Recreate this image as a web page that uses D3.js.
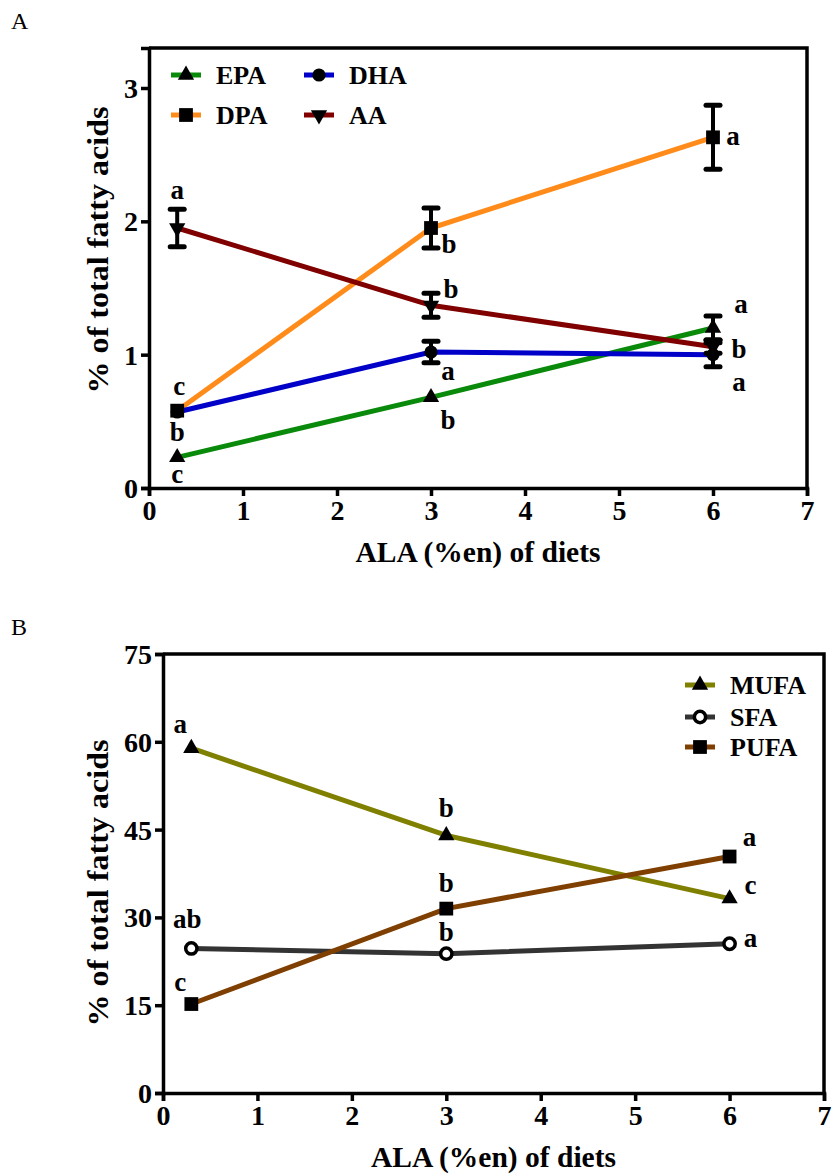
<!DOCTYPE html>
<html>
<head>
<meta charset="utf-8">
<script src="https://cdn.jsdelivr.net/npm/d3@7"></script>
<style>
  body { margin: 0; background: #fff; }
  svg text { font-family: "Liberation Serif", "Times New Roman", serif; }
</style>
</head>
<body>
<svg id="chart" width="832" height="1175"></svg>
<script>
// diets (ALA %en)
var ala = [0.3, 3, 6];

// panel A - % of total fatty acids
var epa = [0.23, 0.68, 1.20];
var epaErr = [0.02, 0.02, 0.09];
var epaSig = ["c", "b", "a"];
var dha = [0.57, 1.02, 1.00];
var dhaErr = [0.02, 0.08, 0.09];
var dhaSig = ["b", "a", "a"];
var dpa = [0.58, 1.95, 2.63];
var dpaErr = [0.02, 0.15, 0.24];
var dpaSig = ["c", "b", "a"];
var aa = [1.95, 1.37, 1.06];
var aaErr = [0.14, 0.09, 0.05];
var aaSig = ["a", "b", "b"];

// panel B
var mufa = [58.9, 44.0, 33.2];
var mufaSig = ["a", "b", "c"];
var sfa = [24.7, 23.8, 25.5];
var sfaSig = ["ab", "b", "a"];
var pufa = [15.2, 31.5, 40.4];
var pufaSig = ["c", "b", "a"];

var xTicks = [0, 1, 2, 3, 4, 5, 6, 7];
var yTicksA = [0, 1, 2, 3];
var yTicksB = [0, 15, 30, 45, 60, 75];

var svg = d3.select("#chart");

function rows(vals, errs, sig) {
  return ala.map(function(x, i) {
    return { x: x, y: vals[i], e: errs ? errs[i] : 0, sig: sig[i] };
  });
}

function symbolFor(kind) {
  if (kind == "up" || kind == "down") return d3.symbol().type(d3.symbolTriangle).size(115)();
  if (kind == "circle") return d3.symbol().type(d3.symbolCircle).size(135)();
  if (kind == "circle-open") return d3.symbol().type(d3.symbolCircle).size(100)();
  return d3.symbol().type(d3.symbolSquare).size(190)();
}

function addMarker(sel, kind) {
  sel.attr("d", symbolFor(kind))
    .attr("fill", kind == "circle-open" ? "#fff" : "#000")
    .attr("stroke", kind == "circle-open" ? "#000" : "none")
    .attr("stroke-width", 3.5);
}

function drawPanel(cfg) {
  var x = d3.scaleLinear().domain([0, 7]).range([cfg.left, cfg.right]);
  var y = d3.scaleLinear().domain([0, cfg.ymax]).range([cfg.bottom, cfg.top]);
  var g = svg.append("g");

  // frame (top and right)
  g.append("path")
    .attr("d", "M" + x(0) + "," + y(cfg.ymax) + "H" + x(7) + "V" + y(0))
    .attr("fill", "none").attr("stroke", "#000").attr("stroke-width", 3.5);

  var xa = g.append("g")
    .attr("transform", "translate(0," + y(0) + ")")
    .call(d3.axisBottom(x).tickValues(xTicks).tickSize(8).tickPadding(4).tickFormat(d3.format("d")));
  var ya = g.append("g")
    .attr("transform", "translate(" + x(0) + ",0)")
    .call(d3.axisLeft(y).tickValues(cfg.yTicks).tickSize(8).tickPadding(3).tickFormat(d3.format("d")));
  [xa, ya].forEach(function(a) {
    a.attr("font-family", null);
    a.select(".domain").attr("stroke-width", 3.5);
    a.selectAll(".tick line").attr("stroke-width", 3.5);
    a.selectAll(".tick text")
      .attr("fill", "#000")
      .style("font-size", "28px").style("font-weight", "bold");
  });
  ya.selectAll(".tick text").attr("dy", "0.34em");

  g.append("text")
    .attr("x", (cfg.left + cfg.right) / 2).attr("y", cfg.bottom + 74)
    .attr("text-anchor", "middle")
    .attr("textLength", 245).attr("lengthAdjust", "spacingAndGlyphs")
    .style("font-size", "30px").style("font-weight", "bold")
    .text("ALA (%en) of diets");
  g.append("text")
    .attr("transform", "translate(108," + cfg.ylabelMid + ") rotate(-90)")
    .attr("text-anchor", "middle")
    .attr("textLength", 287).attr("lengthAdjust", "spacingAndGlyphs")
    .style("font-size", "30px").style("font-weight", "bold")
    .text("% of total fatty acids");
  g.append("text")
    .attr("x", 11).attr("y", cfg.top - 19)
    .style("font-size", "24px")
    .text(cfg.panel);

  var line = d3.line().x(function(d) { return x(d.x); }).y(function(d) { return y(d.y); });

  cfg.series.forEach(function(s) {
    g.append("path")
      .datum(s.data)
      .attr("d", line)
      .attr("fill", "none")
      .attr("stroke", s.color)
      .attr("stroke-width", 5);
  });

  cfg.series.forEach(function(s) {
    var eb = g.selectAll(null).data(s.data.filter(function(d) { return d.e > 0.03; })).enter().append("g");
    eb.append("line")
      .attr("x1", function(d) { return x(d.x); }).attr("x2", function(d) { return x(d.x); })
      .attr("y1", function(d) { return y(d.y - d.e); }).attr("y2", function(d) { return y(d.y + d.e); })
      .attr("stroke", "#000").attr("stroke-width", 4);
    [-1, 1].forEach(function(sgn) {
      eb.append("line")
        .attr("x1", function(d) { return x(d.x) - 7; }).attr("x2", function(d) { return x(d.x) + 7; })
        .attr("y1", function(d) { return y(d.y + sgn * d.e); }).attr("y2", function(d) { return y(d.y + sgn * d.e); })
        .attr("stroke", "#000").attr("stroke-width", 5).attr("stroke-linecap", "round");
    });
  });

  cfg.series.forEach(function(s) {
    g.selectAll(null).data(s.data).enter().append("path")
      .call(addMarker, s.marker)
      .attr("transform", function(d) {
        return "translate(" + x(d.x) + "," + y(d.y) + ")" + (s.marker == "down" ? " rotate(180)" : "");
      });
  });

  // significance letters
  cfg.series.forEach(function(s) {
    g.selectAll(null).data(s.data).enter().append("text")
      .attr("x", function(d, i) { return x(d.x) + s.lab[i][0]; })
      .attr("y", function(d, i) { return y(d.y) + s.lab[i][1]; })
      .attr("dy", "0.3em")
      .attr("text-anchor", "middle")
      .style("font-size", "27px").style("font-weight", "bold")
      .text(function(d) { return d.sig; });
  });

  // legend
  cfg.series.forEach(function(s, i) {
    var lx = cfg.legend[i][0], ly = cfg.legend[i][1];
    g.append("line")
      .attr("x1", lx - 15).attr("x2", lx + 15).attr("y1", ly).attr("y2", ly)
      .attr("stroke", s.color).attr("stroke-width", 5);
    g.append("path")
      .call(addMarker, s.marker)
      .attr("transform", "translate(" + lx + "," + ly + ")" + (s.marker == "down" ? " rotate(180)" : ""));
    g.append("text")
      .attr("x", lx + 30).attr("y", ly + 9)
      .style("font-size", "26px").style("font-weight", "bold")
      .text(s.name);
  });
}

drawPanel({
  panel: "A",
  left: 149, right: 807, top: 48, bottom: 488, ymax: 3.3,
  yTicks: yTicksA, ylabelMid: 250,
  legend: [[186, 75], [186, 115], [319, 75], [319, 115]],
  series: [
    { name: "EPA", color: "#0a8a0a", marker: "up", data: rows(epa, epaErr, epaSig),
      lab: [[0, 18], [17, 24], [28, -23]] },
    { name: "DPA", color: "#ff8c1a", marker: "square", data: rows(dpa, dpaErr, dpaSig),
      lab: [[2, -24], [18, 17], [20, 0]] },
    { name: "DHA", color: "#0000c8", marker: "circle", data: rows(dha, dhaErr, dhaSig),
      lab: [[0, 21], [17, 20], [26, 28]] },
    { name: "AA", color: "#800000", marker: "down", data: rows(aa, aaErr, aaSig),
      lab: [[0, -37], [20, -15], [26, 3]] }
  ]
});

drawPanel({
  panel: "B",
  left: 163, right: 824, top: 654, bottom: 1093, ymax: 75,
  yTicks: yTicksB, ylabelMid: 883,
  legend: [[700, 685], [700, 717], [700, 747]],
  series: [
    { name: "MUFA", color: "#808000", marker: "up", data: rows(mufa, null, mufaSig),
      lab: [[-11, -23], [0, -27], [21, -13]] },
    { name: "SFA", color: "#333333", marker: "circle-open", data: rows(sfa, null, sfaSig),
      lab: [[-4, -29], [0, -21], [21, -5]] },
    { name: "PUFA", color: "#7f3f00", marker: "square", data: rows(pufa, null, pufaSig),
      lab: [[-11, -21], [0, -25], [20, -19]] }
  ]
});
</script>
</body>
</html>
